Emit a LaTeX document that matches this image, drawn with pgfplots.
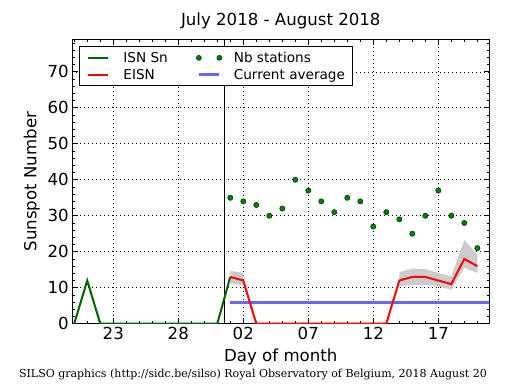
\documentclass[border=0pt]{standalone}
\usepackage{pgfplots}
\pgfplotsset{compat=1.18}
\usepackage{fontspec}
\setmainfont{DejaVu Sans}
\newfontfamily\footfont{DejaVu Serif}
\definecolor{isn}{RGB}{0,100,0}
\definecolor{nbfill}{RGB}{0,128,0}
\definecolor{nbedge}{RGB}{0,60,0}
\definecolor{avg}{RGB}{102,102,255}
\definecolor{band}{RGB}{204,204,204}
\pgfplotsset{
  linelegend/.style={legend image code/.code={\path[draw=none,fill=none] (-3.5pt,0pt) -- (23.5pt,0pt); \draw[##1] (0pt,0pt) -- (20pt,0pt);}},
  dotlegend/.style={legend image code/.code={\path[draw=none,fill=none] (-3.5pt,0pt) -- (23.5pt,0pt); \path[fill=nbfill, draw=nbedge, line width=0.6pt] (0pt,0pt) circle (2.5pt); \path[fill=nbfill, draw=nbedge, line width=0.6pt] (20.5pt,0pt) circle (2.5pt);}},
}
\begin{document}
\begin{tikzpicture}
\path[use as bounding box] (0,0) rectangle (515pt,390pt);
\begin{axis}[
  at={(72.3pt,66.3pt)}, anchor=south west,
  scale only axis, width=417pt, height=284.2pt,
  xmin=19.85, xmax=51.92, ymin=0, ymax=79,
  xtick={23,28,33,38,43,48}, xticklabels={23,28,02,07,12,17},
  ytick={0,10,...,70},
  minor xtick={20,21,...,51},
  minor ytick={2,4,...,78},
  tick align=inside,
  major tick length=5.5pt, minor tick length=2.8pt,
  every tick/.style={black, line width=0.8pt},
  grid=major,
  major grid style={black, line width=0.7pt, dash pattern=on 1pt off 3pt},
  axis line style={black, line width=1pt},
  tick label style={font=\fontsize{16.6}{20}\selectfont},
  /pgf/number format/assume math mode=true,
  title={July 2018 - August 2018},
  title style={font=\fontsize{16.6}{20}\selectfont, at={(axis description cs:0.5,1.044)}, anchor=center},
  xlabel={Day of month},
  xlabel style={font=\fontsize{16.6}{20}\selectfont, at={(axis description cs:0.5,-0.117)}, anchor=center},
  ylabel={Sunspot Number},
  ylabel style={font=\fontsize{16.6}{20}\selectfont, at={(axis description cs:-0.0974,0.5)}, anchor=center},
  legend columns=2,
  legend cell align=left,
  legend style={at={(axis description cs:0.016,0.977)}, anchor=north west, draw=black, line width=1pt,
    inner xsep=5.5pt, inner ysep=3pt, font=\fontsize{13.6}{16}\selectfont,
    nodes={inner xsep=2pt, inner ysep=3.35pt, text height=10pt, text depth=0pt},
    /tikz/every odd column/.append style={column sep=9.5pt},
    /tikz/every even column/.append style={column sep=25.5pt}},
  clip=true,
]
% uncertainty bands
\addplot[fill=band, draw=none, forget plot] coordinates {(32,14.7) (33,14.1) (33,10.6) (32,11.3)};
\addplot[fill=band, draw=none, forget plot] coordinates {(45,14.3) (46,15.3) (47,15.2) (48,14.1) (49,13.1) (50,23.3) (51,19.2) (51,14.1) (50,15.6) (49,9.4) (48,10.4) (47,10.8) (46,10.8) (45,10.4)};
% month boundary
\addplot[black, line width=1.3pt, forget plot] coordinates {(31.55,0) (31.55,79)};
% ISN Sn
\addplot[isn, line width=2pt, forget plot] coordinates {(20,0) (21,12) (22,0) (23,0) (24,0) (25,0) (26,0) (27,0) (28,0) (29,0) (30,0) (31,0) (32,13)};
% Current average
\addplot[avg, line width=3pt, forget plot] coordinates {(32,5.9) (53,5.9)};
% EISN
\addplot[red, line width=2pt, forget plot] coordinates {(32,13) (33,12) (34,0) (35,0) (36,0) (37,0) (38,0) (39,0) (40,0) (41,0) (42,0) (43,0) (44,0) (45,12) (46,13) (47,13) (48,12) (49,11) (50,18) (51,16)};
% Nb stations
\addplot[only marks, mark=*, mark size=2.6pt, mark options={fill=nbfill, draw=nbedge, line width=0.6pt}, forget plot] coordinates {(32,35) (33,34) (34,33) (35,30) (36,32) (37,40) (38,37) (39,34) (40,31) (41,35) (42,34) (43,27) (44,31) (45,29) (46,25) (47,30) (48,37) (49,30) (50,28) (51,21)};
\addlegendimage{isn, line width=2pt, linelegend}
\addlegendentry{ISN Sn}
\addlegendimage{dotlegend}
\addlegendentry{Nb stations}
\addlegendimage{red, line width=2pt, linelegend}
\addlegendentry{EISN}
\addlegendimage{avg, line width=3pt, linelegend}
\addlegendentry{Current average}
\end{axis}
\node[font=\footfont\fontsize{11}{13}\selectfont] at (253pt,15pt) {SILSO graphics (http://sidc.be/silso) Royal Observatory of Belgium, 2018 August 20};
\end{tikzpicture}
\end{document}
